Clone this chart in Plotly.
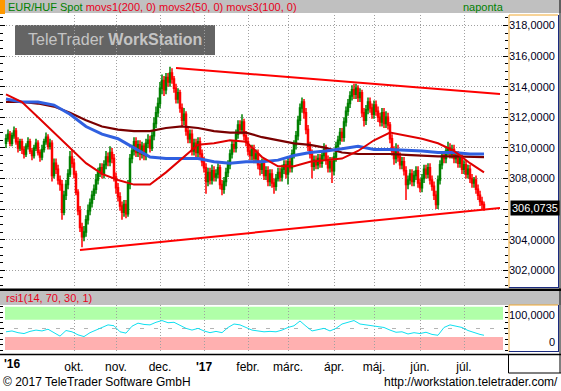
import plotly.graph_objects as go
import pandas as pd

W, H = 561, 391


def fx(p):
    return p / W


def fy(p):
    return 1 - p / H


# ---------------- data ----------------
dates = pd.bdate_range("2016-08-16", periods=240)

opens = [
    310.3, 310.6, 310.9, 310.3, 310.8, 311.1, 310.4, 310.0, 310.4, 309.9,
    309.6, 310.1, 310.4, 309.8, 309.5, 310.0, 310.3, 309.7, 309.4, 309.9,
    310.4, 310.7, 310.1, 310.3, 308.2, 309.0, 308.6, 307.9, 307.6, 305.8,
    306.9, 307.6, 308.3, 309.4, 309.0, 308.3, 307.1, 305.9, 304.8, 304.2,
    304.5, 305.3, 305.9, 306.4, 306.9, 307.3, 307.9, 308.4, 308.7, 308.3,
    308.9, 309.4, 309.1, 309.7, 309.3, 308.1, 307.4, 306.8, 306.2, 305.8,
    306.3, 305.7, 307.6, 309.3, 309.8, 310.4, 309.7, 310.2, 309.6, 310.1,
    309.5, 310.3, 310.5, 310.0, 310.8, 311.6, 312.3, 312.9, 313.9, 314.4,
    313.8, 314.6, 314.3, 314.9, 314.5, 313.9, 313.2, 313.6, 312.6, 311.8,
    312.2, 311.1, 310.6, 310.9, 309.8, 310.3, 309.7, 310.4, 309.6, 309.1,
    308.7, 307.8, 308.4, 307.9, 308.5, 308.1, 308.3, 308.7, 307.6, 307.3,
    307.8, 308.4, 308.9, 309.6, 310.2, 310.0, 310.9, 311.5, 311.2, 311.7,
    310.8, 310.4, 309.8, 309.5, 309.9, 309.3, 309.6, 308.9, 308.6, 309.0,
    308.2, 308.5, 307.8, 308.3, 307.7, 307.5, 308.0, 308.4, 308.1, 308.6,
    308.9, 308.3, 309.1, 308.7, 309.6, 310.2, 310.8, 311.8, 312.6, 313.0,
    312.3, 311.2, 310.1, 309.6, 308.8, 309.2, 308.9, 309.3, 309.0, 309.5,
    309.9, 309.2, 308.7, 309.1, 308.5, 309.4, 310.1, 310.5, 311.0, 310.7,
    311.7, 312.4, 312.9, 313.4, 313.8, 313.5, 313.9, 313.3, 313.6, 312.3,
    311.8, 312.5, 313.0, 312.6, 312.2, 312.8, 312.4, 312.0, 311.7, 312.3,
    311.6, 312.0, 311.5, 310.6, 309.8, 309.3, 309.9, 309.4, 308.9, 309.1,
    308.5, 307.6, 307.9, 308.3, 307.8, 308.2, 308.5, 307.7, 307.4, 308.0,
    308.6, 308.3, 308.7, 307.9, 307.5, 306.9, 306.3, 307.9, 308.9, 309.5,
    309.3, 309.8, 310.0, 309.6, 309.9, 309.3, 309.5, 309.0, 309.3, 308.6,
    308.9, 308.3, 308.6, 308.0, 307.7, 307.9, 307.3, 306.9, 306.5, 306.3,
]
highs = [
    310.9, 311.2, 311.1, 311.0, 311.4, 311.3, 310.7, 310.6, 310.6, 310.1,
    310.3, 310.7, 310.6, 310.0, 310.2, 310.6, 310.5, 309.9, 310.2, 310.6,
    311.0, 310.9, 310.6, 310.5, 309.3, 309.3, 308.9, 308.2, 307.9, 307.2,
    307.9, 308.6, 309.8, 309.9, 309.3, 308.5, 307.3, 306.2, 305.1, 304.9,
    305.6, 306.3, 306.7, 307.2, 307.6, 308.3, 308.7, 309.0, 309.0, 309.2,
    309.8, 309.7, 310.1, 310.0, 309.6, 308.4, 307.7, 307.1, 306.5, 306.6,
    306.6, 307.9, 309.6, 310.2, 310.7, 310.7, 310.5, 310.5, 310.4, 310.3,
    310.6, 310.9, 310.8, 311.1, 312.0, 312.7, 313.3, 314.3, 314.8, 314.7,
    314.9, 314.9, 315.3, 315.2, 314.7, 314.2, 313.9, 313.8, 312.9, 312.6,
    312.4, 311.4, 311.2, 311.2, 310.6, 310.6, 310.7, 310.7, 309.9, 309.4,
    309.0, 308.7, 308.7, 308.9, 308.8, 308.6, 309.0, 308.9, 307.9, 308.1,
    308.7, 309.2, 309.9, 310.5, 310.5, 311.2, 311.8, 311.8, 312.2, 311.9,
    311.1, 310.7, 310.1, 310.2, 310.2, 309.9, 309.9, 309.2, 309.3, 309.3,
    308.8, 308.8, 308.6, 308.6, 308.0, 308.3, 308.7, 308.7, 308.9, 309.2,
    309.2, 309.4, 309.4, 309.9, 310.5, 311.1, 312.1, 312.9, 313.3, 313.2,
    312.6, 311.5, 310.4, 309.9, 309.5, 309.5, 309.6, 309.6, 309.8, 310.3,
    310.2, 309.5, 309.4, 309.4, 309.7, 310.4, 310.8, 311.3, 311.3, 312.0,
    312.7, 313.2, 313.7, 314.1, 314.2, 314.2, 314.1, 313.9, 313.8, 312.6,
    312.8, 313.3, 313.3, 312.9, 313.1, 313.1, 312.7, 312.3, 312.6, 312.6,
    312.4, 312.3, 311.7, 310.9, 310.1, 310.3, 310.2, 309.7, 309.4, 309.4,
    308.8, 308.2, 308.6, 308.6, 308.5, 308.8, 308.8, 308.0, 308.3, 308.9,
    308.9, 309.0, 309.0, 308.2, 307.8, 307.2, 308.2, 309.2, 309.8, 309.8,
    310.1, 310.4, 310.3, 310.2, 310.2, 309.8, 309.8, 309.6, 309.6, 309.2,
    309.2, 308.9, 308.9, 308.3, 308.1, 308.2, 307.6, 307.2, 306.8, 306.5,
]
lows = [
    310.0, 310.4, 310.1, 310.1, 310.6, 310.2, 309.7, 309.8, 309.6, 309.3,
    309.4, 309.9, 309.6, 309.2, 309.3, 309.8, 309.5, 309.1, 309.2, 309.7,
    310.2, 309.9, 309.9, 307.8, 308.0, 308.3, 307.6, 307.2, 305.3, 305.6,
    306.6, 307.3, 308.1, 308.7, 308.0, 306.9, 305.6, 304.5, 303.5, 303.9,
    304.2, 305.0, 305.6, 306.1, 306.6, 307.0, 307.6, 308.1, 308.0, 308.0,
    308.6, 308.8, 308.8, 309.0, 307.8, 307.0, 306.5, 305.9, 305.3, 305.5,
    305.4, 305.5, 307.3, 309.0, 309.5, 309.4, 309.4, 309.2, 309.3, 309.2,
    309.2, 310.0, 309.7, 309.8, 310.5, 311.3, 312.0, 312.6, 313.5, 313.4,
    313.5, 314.0, 314.0, 314.2, 313.6, 312.9, 312.9, 312.3, 311.4, 311.5,
    310.8, 310.3, 310.3, 309.5, 309.5, 309.4, 309.4, 309.3, 308.8, 308.4,
    307.0, 307.5, 307.6, 307.6, 307.8, 307.8, 308.0, 307.3, 306.9, 307.0,
    307.5, 308.1, 308.6, 309.3, 309.7, 309.7, 310.6, 310.9, 310.9, 310.5,
    310.1, 309.5, 309.2, 309.2, 309.0, 309.0, 308.6, 308.2, 308.3, 307.9,
    307.9, 307.5, 307.5, 307.4, 307.0, 307.2, 307.8, 307.8, 307.8, 308.3,
    308.0, 307.6, 308.4, 308.4, 309.3, 309.9, 310.5, 311.5, 312.3, 311.9,
    310.9, 309.8, 309.3, 308.0, 308.5, 308.6, 308.6, 308.7, 308.7, 309.2,
    308.9, 308.4, 308.4, 307.7, 308.2, 309.1, 309.8, 310.2, 310.4, 310.4,
    311.4, 312.1, 312.6, 313.1, 313.2, 313.2, 313.0, 313.0, 312.0, 311.4,
    311.5, 312.2, 312.3, 311.9, 311.9, 312.1, 311.7, 311.4, 311.4, 311.3,
    311.3, 311.2, 310.3, 309.5, 308.9, 309.0, 309.1, 308.6, 308.6, 308.2,
    306.6, 307.3, 307.6, 307.5, 307.5, 307.9, 307.4, 307.1, 307.1, 307.7,
    308.0, 308.0, 307.6, 307.2, 306.6, 306.0, 306.0, 307.6, 308.6, 309.0,
    309.0, 309.5, 309.3, 309.3, 309.0, 309.0, 308.7, 308.7, 308.3, 308.3,
    308.0, 308.0, 307.7, 307.4, 307.4, 307.0, 306.6, 306.2, 306.0, 305.9,
]
closes = [
    310.6, 310.9, 310.3, 310.8, 311.1, 310.4, 310.0, 310.4, 309.9, 309.6,
    310.1, 310.4, 309.8, 309.5, 310.0, 310.3, 309.7, 309.4, 309.9, 310.4,
    310.7, 310.1, 310.3, 308.2, 309.0, 308.6, 307.9, 307.6, 305.8, 306.9,
    307.6, 308.3, 309.4, 309.0, 308.3, 307.1, 305.9, 304.8, 304.2, 304.5,
    305.3, 305.9, 306.4, 306.9, 307.3, 307.9, 308.4, 308.7, 308.3, 308.9,
    309.4, 309.1, 309.7, 309.3, 308.1, 307.4, 306.8, 306.2, 305.8, 306.3,
    305.7, 307.6, 309.3, 309.8, 310.4, 309.7, 310.2, 309.6, 310.1, 309.5,
    310.3, 310.5, 310.0, 310.8, 311.6, 312.3, 312.9, 313.9, 314.4, 313.8,
    314.6, 314.3, 314.9, 314.5, 313.9, 313.2, 313.6, 312.6, 311.8, 312.2,
    311.1, 310.6, 310.9, 309.8, 310.3, 309.7, 310.4, 309.6, 309.1, 308.7,
    307.8, 308.4, 307.9, 308.5, 308.1, 308.3, 308.7, 307.6, 307.3, 307.8,
    308.4, 308.9, 309.6, 310.2, 310.0, 310.9, 311.5, 311.2, 311.7, 310.8,
    310.4, 309.8, 309.5, 309.9, 309.3, 309.6, 308.9, 308.6, 309.0, 308.2,
    308.5, 307.8, 308.3, 307.7, 307.5, 308.0, 308.4, 308.1, 308.6, 308.9,
    308.3, 309.1, 308.7, 309.6, 310.2, 310.8, 311.8, 312.6, 313.0, 312.3,
    311.2, 310.1, 309.6, 308.8, 309.2, 308.9, 309.3, 309.0, 309.5, 309.9,
    309.2, 308.7, 309.1, 308.5, 309.4, 310.1, 310.5, 311.0, 310.7, 311.7,
    312.4, 312.9, 313.4, 313.8, 313.5, 313.9, 313.3, 313.6, 312.3, 311.8,
    312.5, 313.0, 312.6, 312.2, 312.8, 312.4, 312.0, 311.7, 312.3, 311.6,
    312.0, 311.5, 310.6, 309.8, 309.3, 309.9, 309.4, 308.9, 309.1, 308.5,
    307.6, 307.9, 308.3, 307.8, 308.2, 308.5, 307.7, 307.4, 308.0, 308.6,
    308.3, 308.7, 307.9, 307.5, 306.9, 306.3, 307.9, 308.9, 309.5, 309.3,
    309.8, 310.0, 309.6, 309.9, 309.3, 309.5, 309.0, 309.3, 308.6, 308.9,
    308.3, 308.6, 308.0, 307.7, 307.9, 307.3, 306.9, 306.5, 306.3, 306.0735,
]

# moving averages, sampled every 8 sessions (session index)
ma_idx = [0, 8, 16, 24, 32, 40, 48, 56, 64, 72, 80, 88, 96, 104, 112, 120,
          128, 136, 144, 152, 160, 168, 176, 184, 192, 200, 208, 216, 224, 232, 239]
movs1_200 = [313.0, 313.0, 312.9, 312.7, 312.3, 311.8, 311.4, 311.2, 311.1, 311.1,
             311.3, 311.4, 311.3, 311.1, 311.0, 311.0, 310.7, 310.5, 310.3, 310.2,
             310.0, 309.7, 309.6, 309.6, 309.6, 309.55, 309.5, 309.45, 309.45, 309.4, 309.4]
movs2_50 = [313.5, 313.0, 312.0, 311.0, 310.0, 309.0, 308.3, 307.9, 307.6, 307.6,
            308.4, 309.3, 310.2, 310.3, 310.5, 310.4, 309.4, 308.8, 308.8, 309.1,
            309.2, 309.3, 309.8, 310.5, 311.0, 310.8, 310.6, 310.3, 309.8, 309.0, 308.4]
movs3_100 = [313.2, 313.0, 313.0, 312.8, 312.2, 311.4, 310.9, 310.6, 310.0, 309.4,
             309.3, 309.3, 309.3, 309.1, 309.0, 309.1, 309.1, 309.2, 309.5, 309.7,
             309.8, 309.95, 310.1, 309.9, 309.9, 309.85, 309.8, 309.7, 309.7, 309.6, 309.6]

# RSI(14), sampled every 3 sessions
rsi_idx = list(range(0, 240, 3)) + [239]
rsi_vals = [42, 44, 40, 38, 43, 46, 44, 48, 40, 32, 45, 42, 35, 31, 40, 46, 52, 58, 56, 42,
            39, 55, 62, 59, 58, 64, 68, 63, 64, 57, 50, 46, 50, 44, 40, 43, 40, 52, 60, 58,
            52, 46, 44, 42, 43, 42, 46, 52, 56, 67, 55, 44, 47, 50, 44, 50, 60, 64, 68, 60,
            58, 56, 55, 52, 46, 41, 42, 37, 40, 38, 41, 36, 34, 52, 58, 55, 52, 45, 40, 36, 34]
rsi_upper, rsi_lower = 70, 30

# trend lines (session index, price)
trend_up_idx, trend_up_val = [85, 247], [315.22, 313.52]
trend_lo_idx, trend_lo_val = [37, 247], [303.33, 306.07]

price_ticks = [302, 304, 306, 308, 310, 312, 314, 316, 318]
odd_ticks = [301, 303, 305, 307, 309, 311, 313, 315, 317]
month_keys = ["2016-10", "2016-11", "2016-12", "2017-01", "2017-02", "2017-03",
              "2017-04", "2017-05", "2017-06", "2017-07"]
month_text = ["okt.", "nov.", "dec.", "<b>'17</b>", "febr.", "márc.", "ápr.",
              "máj.", "jún.", "júl."]

# ---------------- figure ----------------
x = list(range(len(dates)))
ym = [d.strftime("%Y-%m") for d in dates]
month_idx = [ym.index(k) for k in month_keys]

last_price = closes[-1]
# the last-price box replaces the nearest regular label
price_text = ["" if abs(v - last_price) < 1 else f"{v:.4f}".replace(".", ",")
              for v in price_ticks]

fig = go.Figure()
fig.add_trace(go.Candlestick(
    x=x, open=opens, high=highs, low=lows, close=closes,
    increasing=dict(line=dict(color="#008000", width=1.5), fillcolor="#008000"),
    decreasing=dict(line=dict(color="#ff0000", width=1.5), fillcolor="#ff0000"),
    whiskerwidth=0, xaxis="x", yaxis="y", hoverinfo="skip"))
fig.add_trace(go.Scatter(x=ma_idx, y=movs1_200, mode="lines",
                         line=dict(color="#7a0000", width=2.2), xaxis="x", yaxis="y"))
fig.add_trace(go.Scatter(x=ma_idx, y=movs3_100, mode="lines",
                         line=dict(color="#3060e0", width=3), xaxis="x", yaxis="y"))
fig.add_trace(go.Scatter(x=ma_idx, y=movs2_50, mode="lines",
                         line=dict(color="#e00000", width=2), xaxis="x", yaxis="y"))
fig.add_trace(go.Scatter(x=trend_up_idx, y=trend_up_val, mode="lines",
                         line=dict(color="#ff0000", width=2), xaxis="x", yaxis="y"))
fig.add_trace(go.Scatter(x=trend_lo_idx, y=trend_lo_val, mode="lines",
                         line=dict(color="#ff0000", width=2), xaxis="x", yaxis="y"))
fig.add_trace(go.Scatter(x=rsi_idx, y=rsi_vals, mode="lines",
                         line=dict(color="#10e0f0", width=1), xaxis="x2", yaxis="y2"))

xr = [-3, 251]
dom_x = [0, fx(508)]
grid_dot = "1px,2px"
grid_dash = "4px,10px"

fig.update_layout(
    width=W, height=H, margin=dict(l=0, r=0, t=0, b=0),
    paper_bgcolor="white", plot_bgcolor="white", showlegend=False,
    separators=",.",
    font=dict(family="Liberation Sans, Arial", size=11, color="black"),
    xaxis=dict(domain=dom_x, range=xr, anchor="y", tickvals=month_idx,
               showticklabels=False, showgrid=True, gridcolor="#a0a0a0",
               griddash=grid_dot, zeroline=False, showline=False, ticks="",
               rangeslider=dict(visible=False)),
    yaxis=dict(domain=[fy(288), fy(15)], range=[300.843, 318.686], side="right",
               anchor="x", tickvals=price_ticks, ticktext=price_text,
               tickfont=dict(family="Liberation Sans, Arial", size=11, color="#000020"),
               showgrid=True, gridcolor="#a0a0a0", griddash=grid_dot,
               ticks="inside", ticklen=5, tickcolor="black", tickwidth=1,
               minor=dict(dtick=0.5, tick0=0, ticks="inside", ticklen=3,
                          tickcolor="black", showgrid=False),
               mirror="ticks", zeroline=False, showline=False),
    yaxis3=dict(overlaying="y", range=[300.843, 318.686], side="right", anchor="x",
                tickvals=odd_ticks, showticklabels=False, ticks="",
                showgrid=True, gridcolor="#b4b4b4", griddash=grid_dash, zeroline=False),
    xaxis2=dict(domain=dom_x, range=xr, anchor="y2", tickvals=month_idx,
                ticktext=month_text,
                tickfont=dict(family="Liberation Sans, Arial", size=12, color="black"),
                showgrid=True, gridcolor="#a0a0a0", griddash=grid_dot,
                ticks="outside", ticklen=4, tickcolor="rgba(0,0,0,0)",
                zeroline=False, showline=False),
    yaxis2=dict(domain=[fy(352), fy(305)], range=[-4.62, 103.93], side="right",
                anchor="x2", tickvals=[50], showticklabels=False,
                showgrid=True, gridcolor="#b4b4b4", griddash=grid_dash,
                ticks="inside", ticklen=4, tickcolor="black",
                minor=dict(dtick=12.5, tick0=0, ticks="inside", ticklen=3,
                           tickcolor="black", showgrid=False),
                mirror="ticks", zeroline=False, showline=False),
)

shapes = []


def rect(x0, y0, x1, y1, fill, layer="above"):
    shapes.append(dict(type="rect", xref="paper", yref="paper",
                       x0=fx(x0), x1=fx(x1), y0=fy(y0), y1=fy(y1),
                       fillcolor=fill, line=dict(width=0), layer=layer))


def line(x0, y0, x1, y1, color, width=1):
    shapes.append(dict(type="line", xref="paper", yref="paper",
                       x0=fx(x0), x1=fx(x1), y0=fy(y0), y1=fy(y1),
                       line=dict(color=color, width=width), layer="above"))


# header bars
rect(0, 0, W, 13, "#c0c0c0")
rect(0, 0, 5, 14, "#ff9900")
rect(0, 291, W, 305, "#c0c0c0")
rect(0, 288.5, W, 291, "#000000")
# watermark box
rect(15, 25, 215, 55, "#646464", layer="below")
# RSI bands
for lo, hi, col in [(rsi_upper, 100, "#b0ffa8"), (0, rsi_lower, "#ffb0b0")]:
    shapes.append(dict(type="rect", xref="paper", yref="y2",
                       x0=fx(5), x1=fx(503), y0=lo, y1=hi,
                       fillcolor=col, line=dict(width=0), layer="below"))
# axis boxes
for top, bot in [(15, 288), (305, 352)]:
    line(509, top, 509, bot, "#f0a830")
    line(509, top, 558, top, "#f0a830")
    line(558.5, top, 558.5, bot, "#1a2a80")
    line(509, bot - 0.5, 558.5, bot - 0.5, "#1a2a80")
# frame lines
line(0, 354.5, W, 354.5, "#000000", 1.5)
line(508.5, 354.5, 508.5, 373, "#000000")
line(508.5, 373, W, 373, "#000000")
line(560, 0, 560, 373, "#000000")

anns = [
    dict(x=fx(6), y=fy(6.5), xanchor="left", yanchor="middle",
         text='<span style="color:#008000">EUR/HUF Spot</span> '
              '<span style="color:#e8001c">movs1(200, 0) movs2(50, 0) movs3(100, 0)</span>',
         font=dict(size=11)),
    dict(x=fx(506), y=fy(6.5), xanchor="right", yanchor="middle",
         text="naponta", font=dict(size=11, color="#008000")),
    dict(x=fx(4), y=fy(298), xanchor="left", yanchor="middle",
         text="rsi1(14, 70, 30, 1)", font=dict(size=11, color="#e8001c")),
    dict(x=fx(115), y=fy(40), xanchor="center", yanchor="middle",
         text="TeleTrader <b>WorkStation</b>",
         font=dict(size=16, color="#c4c4c4")),
    dict(x=fx(2), y=fy(364), xanchor="left", yanchor="middle",
         text="<b>'16</b>", font=dict(size=12, color="black")),
    dict(x=fx(1), y=fy(382), xanchor="left", yanchor="middle",
         text="© 2017 TeleTrader Software GmbH", font=dict(size=12, color="black")),
    dict(x=fx(560), y=fy(382), xanchor="right", yanchor="middle",
         text="http://workstation.teletrader.com/", font=dict(size=12, color="black")),
    dict(x=fx(557), y=100, yref="y2", xanchor="right", yanchor="top",
         text=f"{100:.4f}".replace(".", ","), font=dict(size=11, color="#000020")),
    dict(x=fx(557), y=0, yref="y2", xanchor="right", yanchor="bottom",
         text="0", font=dict(size=11, color="#000020")),
    dict(x=fx(510), y=last_price, yref="y", xanchor="left", yanchor="middle",
         text=f"{last_price:.4f}".replace(".", ","), bgcolor="#000000",
         font=dict(size=11, color="white"), borderpad=1),
]
for a in anns:
    a.setdefault("xref", "paper")
    a.setdefault("yref", "paper")
    a["showarrow"] = False

fig.update_layout(shapes=shapes, annotations=anns)
fig.write_html("out.html")
